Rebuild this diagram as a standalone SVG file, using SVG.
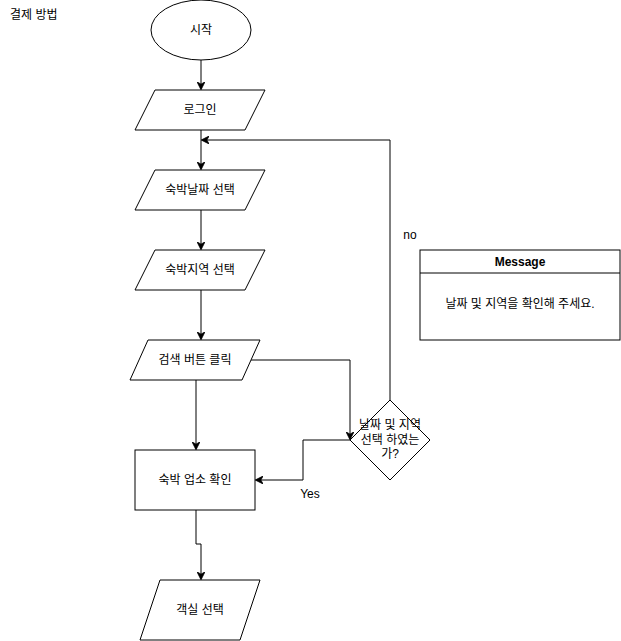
<svg xmlns="http://www.w3.org/2000/svg" width="621" height="641" viewBox="0 0 621 641">
<style>
.s{fill:#fff;stroke:#000;stroke-width:1}
.t{font-family:"Liberation Sans","Noto Sans CJK KR",sans-serif;font-size:12px;fill:#000;text-anchor:middle;dominant-baseline:central}
.e{fill:none;stroke:#000;stroke-width:1}
</style>
<defs>
<marker id="a" viewBox="0 0 10 10" refX="9" refY="5" markerWidth="8" markerHeight="8" markerUnits="userSpaceOnUse" orient="auto">
<path d="M0,0 L10,5 L0,10 L3,5 Z" fill="#000" stroke="#000" stroke-width="1"/>
</marker>
</defs>
<rect width="621" height="641" fill="#fff"/>
<text class="t" x="10" y="15" style="text-anchor:start">결제 방법</text>
<g id="edges">
<path class="e" d="M201,60 V89" marker-end="url(#a)"/>
<path class="e" d="M201,130 V169" marker-end="url(#a)"/>
<path class="e" d="M201,210 V249" marker-end="url(#a)"/>
<path class="e" d="M201,290 V339" marker-end="url(#a)"/>
<path class="e" d="M251,360 H350 V439" marker-end="url(#a)"/>
<path class="e" d="M196,380 V449" marker-end="url(#a)"/>
<path class="e" d="M350,440 H303 V480 H256" marker-end="url(#a)"/>
<path class="e" d="M390,400 V140 H202" marker-end="url(#a)"/>
<path class="e" d="M196,510 V544 H201 V579" marker-end="url(#a)"/>
<text class="t" x="310" y="494">Yes</text>
<text class="t" x="410" y="235">no</text>
</g>
<g id="start"><ellipse class="s" cx="201" cy="30" rx="50" ry="30"/><text class="t" x="201" y="30">시작</text></g>
<g id="login"><polygon class="s" points="155,90 265,90 245,130 135,130"/><text class="t" x="200" y="110">로그인</text></g>
<g id="date"><polygon class="s" points="155,170 265,170 245,210 135,210"/><text class="t" x="200" y="190">숙박날짜 선택</text></g>
<g id="region"><polygon class="s" points="155,250 265,250 245,290 135,290"/><text class="t" x="200" y="270">숙박지역 선택</text></g>
<g id="search"><polygon class="s" points="148,340 260,340 242,380 130,380"/><text class="t" x="195" y="360">검색 버튼 클릭</text></g>
<g id="check"><polygon class="s" points="390,400 430,440 390,480 350,440"/><text class="t" x="390" y="425">날짜 및 지역</text><text class="t" x="390" y="440">선택 하였는</text><text class="t" x="390" y="454">가?</text></g>
<g id="lodging"><rect class="s" x="135" y="450" width="120" height="60"/><text class="t" x="195" y="480">숙박 업소 확인</text></g>
<g id="room"><polygon class="s" points="160,580 260,580 240,640 140,640"/><text class="t" x="200" y="610">객실 선택</text></g>
<g id="message"><rect class="s" x="420" y="250" width="200" height="90"/><line class="e" x1="420" y1="273" x2="620" y2="273"/><text class="t" x="520" y="262" style="font-weight:bold">Message</text><text class="t" x="520" y="304">날짜 및 지역을 확인해 주세요.</text></g>
</svg>
